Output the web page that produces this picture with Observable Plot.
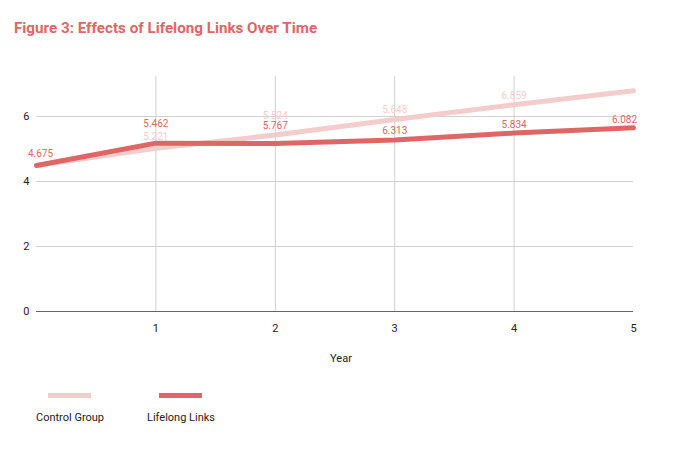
<!DOCTYPE html>
<html>
<head>
<meta charset="utf-8">
<script src="https://cdn.jsdelivr.net/npm/d3@7"></script>
<script src="https://cdn.jsdelivr.net/npm/@observablehq/plot@0.6"></script>
<style>
  body { margin: 0; background: #fff; font-family: Roboto, "Noto Sans", sans-serif; }
  #wrap { position: relative; width: 680px; height: 451px; overflow: hidden; }
  #title { position: absolute; left: 14px; top: 18px; font-size: 15.2px; font-weight: 700; color: #e06666; line-height: 20px; }
  #chart { position: absolute; left: 0; top: 50px; }
  .sw { position: absolute; height: 5px; width: 43px; top: 393px; }
  .lt { position: absolute; top: 411px; font-size: 11px; color: #222; width: 100px; text-align: center; }
</style>
</head>
<body>
<div id="wrap">
  <div id="title">Figure 3: Effects of Lifelong Links Over Time</div>
  <div id="chart"></div>
  <div class="sw" style="left:48px;background:#f4cccc"></div>
  <div class="lt" style="left:20px">Control Group</div>
  <div class="sw" style="left:159px;background:#e06666"></div>
  <div class="lt" style="left:131px">Lifelong Links</div>
</div>
<script>
const years = [0, 1, 2, 3, 4, 5];
const controlValues = [4.49, 5.02, 5.43, 5.91, 6.36, 6.79];
const lifelongValues = [4.49, 5.18, 5.17, 5.28, 5.49, 5.65];
const controlLabels = [null, "5.221", "5.524", "5.648", "6.859", null];
const lifelongLabels = ["4.675", "5.462", "5.767", "6.313", "5.834", "6.082"];
const xTicks = [1, 2, 3, 4, 5];
const yTicks = [0, 2, 4, 6];

const CONTROL = "#f4cccc", LIFELONG = "#e06666";

// label nudges (pixels) to avoid collisions, as in the original
const controlNudge = [0, -12, -19, -10, -9, 0];
const lifelongNudge = [-12, -19, -18, -9, -8, -8];
const lifelongDx = [4, 0, 0, 0, 0, -9];

const control = years.map((x, i) => ({x, y: controlValues[i], label: controlLabels[i], dy: controlNudge[i], dx: 0}));
const lifelong = years.map((x, i) => ({x, y: lifelongValues[i], label: lifelongLabels[i], dy: lifelongNudge[i], dx: lifelongDx[i]}));

function labelMarks(data, color) {
  return data.filter(d => d.label).map(d => Plot.text([d], {
    x: "x", y: "y", text: "label", fill: color, dy: d.dy, dx: d.dx,
    fontSize: 10, textAnchor: "middle"
  }));
}

const chart = Plot.plot({
  width: 680,
  height: 325,
  marginLeft: 36,
  marginRight: 47,
  marginTop: 26,
  marginBottom: 64,
  style: { fontFamily: "Roboto, sans-serif", fontSize: "11px", color: "#222", background: "transparent" },
  x: { domain: [0, 5] },
  y: { domain: [0, 7.23] },
  marks: [
    Plot.gridY(yTicks.filter(t => t > 0), { stroke: "#d0d0d0", strokeOpacity: 1 }),
    Plot.gridX(xTicks.filter(t => t < 5), { stroke: "#d0d0d0", strokeOpacity: 1 }),
    Plot.ruleY([0], { stroke: "#666", strokeWidth: 1.2 }),
    Plot.line(control, { x: "x", y: "y", stroke: CONTROL, strokeWidth: 5 }),
    Plot.line(lifelong, { x: "x", y: "y", stroke: LIFELONG, strokeWidth: 5 }),
    ...labelMarks(control, CONTROL),
    ...labelMarks(lifelong, LIFELONG),
    Plot.axisY(yTicks, { tickSize: 0, tickPadding: 7, label: null, fontSize: 11, tickFormat: d => String(d) }),
    Plot.axisX(xTicks, { tickSize: 0, tickPadding: 13, label: null, fontSize: 11, tickFormat: d => String(d) }),
    Plot.text(["Year"], { frameAnchor: "bottom", dy: 50, dx: 6, fontSize: 11, fill: "#222" })
  ]
});
document.getElementById("chart").appendChild(chart);
</script>
</body>
</html>
